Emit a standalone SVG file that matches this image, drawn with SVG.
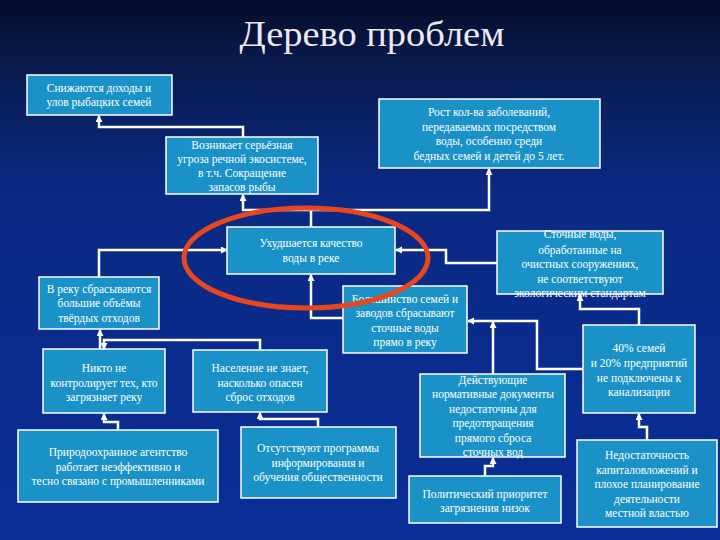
<svg xmlns="http://www.w3.org/2000/svg" width="720" height="540" viewBox="0 0 720 540">
<defs>
<linearGradient id="bg" x1="0" y1="0" x2="0" y2="1">
<stop offset="0" stop-color="#050d2a"/>
<stop offset="0.12" stop-color="#091a4e"/>
<stop offset="0.35" stop-color="#0a2982"/>
<stop offset="1" stop-color="#0a2e98"/>
</linearGradient>
<marker id="ah" markerUnits="userSpaceOnUse" markerWidth="8" markerHeight="8" refX="6" refY="3.5" orient="auto">
<path d="M0,0 L7,3.5 L0,7 z" fill="#ffffff"/>
</marker>
<style>
.box{fill:#1a92c8;stroke:#ffffff;stroke-width:1.5}
.t{font-family:"Liberation Serif","DejaVu Serif",serif;font-size:11.5px;fill:#ffffff;text-anchor:middle}
.c{fill:none;stroke:#ffffff;stroke-width:2.5}
.ca{fill:none;stroke:#ffffff;stroke-width:2.5;marker-end:url(#ah)}
</style>
</defs>
<rect x="0" y="0" width="720" height="540" fill="url(#bg)"/>
<text x="372" y="46" font-family="Liberation Serif, DejaVu Serif, serif" font-size="36" fill="#ebe9f2" text-anchor="middle" textLength="265" lengthAdjust="spacingAndGlyphs">Дерево проблем</text>

<g id="connectors">
<path class="ca" d="M243,137 V127 H99 V116"/>
<path class="ca" d="M311,227 V210 H243 V195"/>
<path class="ca" d="M311,210 H489 V169"/>
<path class="ca" d="M99,277 V250 H227"/>
<path class="ca" d="M497,263 H446 V250 H396"/>
<path class="ca" d="M343,318 H311 V275"/>
<path class="ca" d="M100,349 V330"/>
<path class="ca" d="M260,350 V340 H104 V349"/>
<path class="ca" d="M118,430 V422 H104 V414"/>
<path class="ca" d="M318,427 V419 H260 V413"/>
<path class="ca" d="M583,369 H537 V321 H468"/>
<path class="ca" d="M493,374 V322"/>
<path class="ca" d="M639,325 V309 H580 V295"/>
<path class="ca" d="M485,476 V466 H493 V458"/>
<path class="ca" d="M647,440 V427 H639 V414"/>
</g>

<g id="n1"><rect class="box" x="27" y="75" width="145" height="40"/>
<text class="t" x="99" y="92">Снижаются доходы и</text>
<text class="t" x="99" y="106">улов рыбацких семей</text></g>

<g id="n2"><rect class="box" x="166" y="137" width="152" height="57"/>
<text class="t" x="242" y="149">Возникает серьёзная</text>
<text class="t" x="242" y="163">угроза речной экосистеме,</text>
<text class="t" x="242" y="177">в т.ч. Сокращение</text>
<text class="t" x="242" y="191">запасов рыбы</text></g>

<g id="n3"><rect class="box" x="379" y="99" width="221" height="69"/>
<text class="t" x="489" y="116">Рост кол-ва заболеваний,</text>
<text class="t" x="489" y="131">передаваемых посредством</text>
<text class="t" x="489" y="145">воды, особенно среди</text>
<text class="t" x="489" y="160">бедных семей и детей до 5 лет.</text></g>

<g id="n4"><rect class="box" x="227" y="227" width="168" height="47"/>
<text class="t" x="311" y="247">Ухудшается качество</text>
<text class="t" x="311" y="262">воды в реке</text></g>

<g id="n5"><rect class="box" x="39" y="277" width="120" height="52"/>
<text class="t" x="99" y="293">В реку сбрасываются</text>
<text class="t" x="99" y="307">большие объёмы</text>
<text class="t" x="99" y="322">твёрдых отходов</text></g>

<g id="n6"><rect class="box" x="343" y="286" width="124" height="67"/>
<text class="t" x="405" y="303">Большинство семей и</text>
<text class="t" x="405" y="317">заводов сбрасывают</text>
<text class="t" x="405" y="332">сточные воды</text>
<text class="t" x="405" y="346">прямо в реку</text></g>

<g id="n7"><rect class="box" x="497" y="231" width="166" height="63"/>
<text class="t" x="580" y="238">Сточные воды,</text>
<text class="t" x="580" y="254">обработанные на</text>
<text class="t" x="580" y="268">очистных сооружениях,</text>
<text class="t" x="580" y="283">не соответствуют</text>
<text class="t" x="580" y="297">экологическим стандартам</text></g>

<g id="n8"><rect class="box" x="583" y="325" width="112" height="88"/>
<text class="t" x="639" y="352">40% семей</text>
<text class="t" x="639" y="367">и 20% предприятий</text>
<text class="t" x="639" y="382">не подключены к</text>
<text class="t" x="639" y="396">канализации</text></g>

<g id="n9"><rect class="box" x="43" y="349" width="122" height="64"/>
<text class="t" x="104" y="372">Никто не</text>
<text class="t" x="104" y="387">контролирует тех, кто</text>
<text class="t" x="104" y="401">загрязняет реку</text></g>

<g id="n10"><rect class="box" x="193" y="350" width="134" height="62"/>
<text class="t" x="260" y="372">Население не знает,</text>
<text class="t" x="260" y="387">насколько опасен</text>
<text class="t" x="260" y="401">сброс отходов</text></g>

<g id="n11"><rect class="box" x="18" y="430" width="200" height="72"/>
<text class="t" x="118" y="456">Природоохранное агентство</text>
<text class="t" x="118" y="471">работает неэффективно и</text>
<text class="t" x="118" y="485">тесно связано с промышленниками</text></g>

<g id="n12"><rect class="box" x="241" y="427" width="155" height="71"/>
<text class="t" x="318" y="452">Отсутствуют программы</text>
<text class="t" x="318" y="467">информирования и</text>
<text class="t" x="318" y="481">обучения общественности</text></g>

<g id="n13"><rect class="box" x="420" y="374" width="145" height="83"/>
<text class="t" x="493" y="384">Действующие</text>
<text class="t" x="493" y="398">нормативные документы</text>
<text class="t" x="493" y="413">недостаточны для</text>
<text class="t" x="493" y="427">предотвращения</text>
<text class="t" x="493" y="442">прямого сброса</text>
<text class="t" x="493" y="456">сточных вод</text></g>

<g id="n14"><rect class="box" x="409" y="476" width="152" height="47"/>
<text class="t" x="485" y="498">Политический приоритет</text>
<text class="t" x="485" y="512">загрязнения низок</text></g>

<g id="n15"><rect class="box" x="577" y="440" width="140" height="87"/>
<text class="t" x="647" y="459">Недостаточность</text>
<text class="t" x="647" y="474">капиталовложений и</text>
<text class="t" x="647" y="488">плохое планирование</text>
<text class="t" x="647" y="503">деятельности</text>
<text class="t" x="647" y="517">местной властью</text></g>

<ellipse cx="306" cy="258" rx="122" ry="50" fill="none" stroke="#e8461e" stroke-width="5"/>
</svg>
